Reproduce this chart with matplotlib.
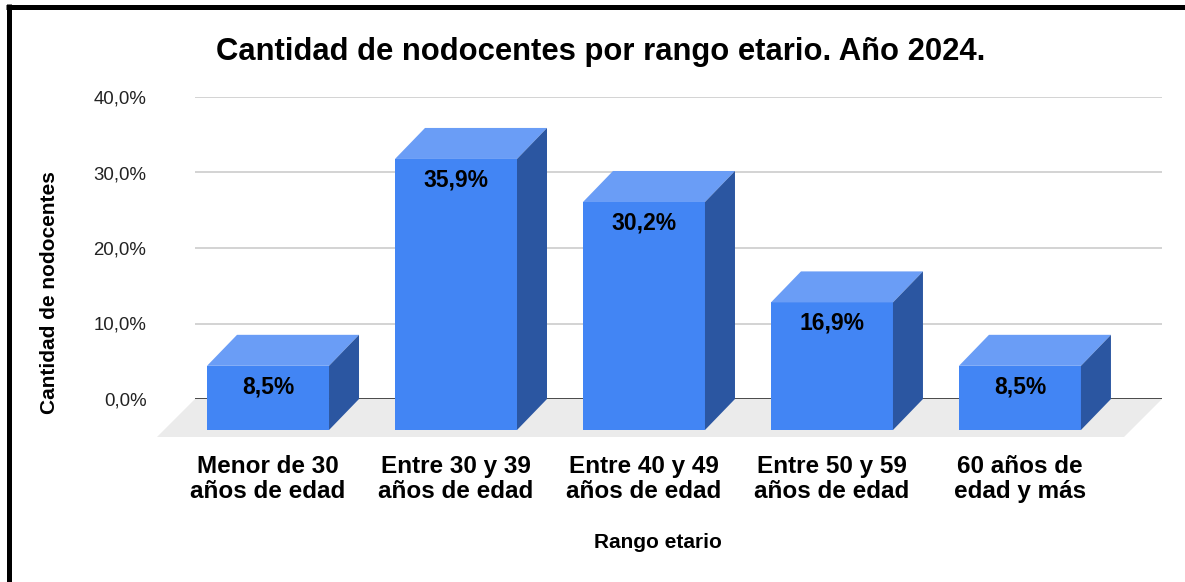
import numpy as np
import matplotlib
matplotlib.use("Agg")
import matplotlib.pyplot as plt
from matplotlib.patches import Polygon
from matplotlib.lines import Line2D

categories = ["Menor de 30\naños de edad", "Entre 30 y 39\naños de edad",
              "Entre 40 y 49\naños de edad", "Entre 50 y 59\naños de edad",
              "60 años de\nedad y más"]
values = [8.5, 35.9, 30.2, 16.9, 8.5]
value_labels = ["8,5%", "35,9%", "30,2%", "16,9%", "8,5%"]
yticks = [0, 10, 20, 30, 40]
ytick_labels = ["0,0%", "10,0%", "20,0%", "30,0%", "40,0%"]
title = "Cantidad de nodocentes por rango etario. Año 2024."
xlabel = "Rango etario"
ylabel = "Cantidad de nodocentes"

plt.rcParams['font.family'] = ['Liberation Sans', 'DejaVu Sans']

W, H = 1185, 582
fig = plt.figure(figsize=(W / 100, H / 100), dpi=100)
fig.patch.set_facecolor('white')

# axes = back plane of the 3D chart
ax = fig.add_axes([195 / W, (H - 399) / H, (1162 - 195) / W, (399 - 97) / H])
ax.set_xlim(-0.548, 4.596)
ax.set_ylim(0, 40)
for s in ax.spines.values():
    s.set_visible(False)
ax.patch.set_alpha(0)

# 3D depth (category units / percent units) and bar width
DX = 30 / 188
DY = 31 / 7.55
BW = 122 / 188
FDX = 38 / 188
FDY = 38 / 7.55

FRONT = '#4285f4'
TOP = '#6a9df6'
SIDE = '#2b56a1'
FLOOR = '#ebebeb'

ax.set_yticks(yticks)
ax.set_yticklabels(ytick_labels)
ax.set_axisbelow(True)
ax.yaxis.grid(True, color='#cccccc', lw=1.2, zorder=0)
ax.tick_params(axis='y', length=0, pad=35, labelsize=13.4, labelcolor='#222222')

# floor
x0, x1 = ax.get_xlim()
floor = Polygon([[x0, 0], [x1, 0], [x1 - FDX, -FDY], [x0 - FDX, -FDY]],
                closed=True, facecolor=FLOOR, edgecolor='none', zorder=1, clip_on=False)
ax.add_patch(floor)
ax.axhline(0, color='#333333', lw=1.2, zorder=1.5)

pos = np.arange(len(values))
ax.bar(pos - DX, values, width=BW, bottom=-DY, color=FRONT, zorder=3, clip_on=False)
for i, v in zip(pos, values):
    fl, fr = i - DX - BW / 2, i - DX + BW / 2
    bl, br = i - BW / 2, i + BW / 2
    top = Polygon([[fl, v - DY], [fr, v - DY], [br, v], [bl, v]], closed=True,
                  facecolor=TOP, edgecolor='none', zorder=3, clip_on=False)
    side = Polygon([[fr, -DY], [br, 0], [br, v], [fr, v - DY]], closed=True,
                   facecolor=SIDE, edgecolor='none', zorder=3, clip_on=False)
    ax.add_patch(top)
    ax.add_patch(side)

for i, v, lab in zip(pos, values, value_labels):
    ax.annotate(lab, (i - DX, v - DY), xytext=(0, -21), textcoords='offset pixels',
                ha='center', va='center', fontsize=16.5, fontweight='bold',
                color='black', zorder=5)

ax.set_xticks(pos - DX)
ax.set_xticklabels(categories, fontsize=17.5, fontweight='bold', linespacing=1.12)
ax.tick_params(axis='x', length=0, pad=40)

fig.text(601 / W, 1 - 52 / H, title, ha='center', va='center', fontsize=22.3, fontweight='bold')
fig.text(658 / W, 1 - 543 / H, xlabel, ha='center', va='center', fontsize=15, fontweight='bold')
fig.text(50 / W, 1 - 293 / H, ylabel, ha='center', va='center', rotation=90,
         fontsize=15, fontweight='bold')

# border
fig.add_artist(Line2D([6 / W, 1], [1 - 6.5 / H, 1 - 6.5 / H], lw=3.6, color='black',
                      solid_capstyle='butt'))
fig.add_artist(Line2D([8.5 / W, 8.5 / W], [0, 1 - 4 / H], lw=3.6, color='black',
                      solid_capstyle='butt'))

fig.savefig('out.png', dpi=100)
